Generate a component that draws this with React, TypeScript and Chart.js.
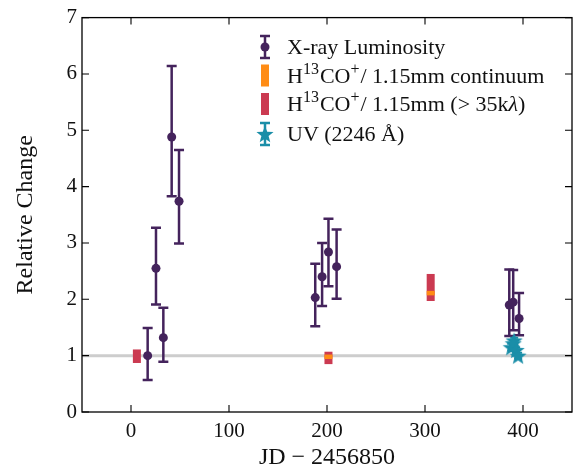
import React, { useEffect, useRef } from 'react';
import { Chart, registerables } from 'chart.js';

Chart.register(...registerables);

// ---------- data ----------
const xrayDays = [17, 25.5, 33, 41.5, 49, 188, 195, 201.5, 209.8, 386, 390, 396];
const xrayValues = [1.0, 2.55, 1.32, 4.88, 3.74, 2.03, 2.4, 2.84, 2.58, 1.9, 1.95, 1.66];
const xrayErrUp = [0.49, 0.72, 0.53, 1.26, 0.91, 0.6, 0.6, 0.59, 0.66, 0.63, 0.57, 0.45];
const xrayErrDown = [0.43, 0.64, 0.43, 1.05, 0.75, 0.51, 0.52, 0.61, 0.57, 0.55, 0.5, 0.3];

const contDays = [201.5, 305.8];
const contValues = [0.98, 2.11];
const contErr = [0.04, 0.04];

const longBaseDays = [6, 201.5, 305.8];
const longBaseValues = [0.99, 0.96, 2.21];
const longBaseErr = [0.12, 0.11, 0.24];

const uvDays = [388, 391, 390, 393, 395];
const uvValues = [1.15, 1.27, 1.22, 1.1, 1.0];
const uvErr = [0.06, 0.05, 0.06, 0.05, 0.05];

const referenceLevel = 1;
const xTickValues = [0, 100, 200, 300, 400];
const yTickValues = [0, 1, 2, 3, 4, 5, 6, 7];
const xRange = [-50, 450];
const yRange = [0, 7];

const legendLabels = [
  'X-ray Luminosity',
  'H¹³CO⁺/ 1.15mm continuum',
  'H¹³CO⁺/ 1.15mm (> 35kλ)',
  'UV (2246 Å)',
];

// ---------- styles ----------
const PURPLE = '#44235c';
const ORANGE = '#ff8c15';
const RED = '#cb3a51';
const TEAL = '#1a8ea8';
const GREY = '#cdcdcd';
const FONT = "'Liberation Serif', 'DejaVu Serif', serif";

function makeStar(color: string, r: number) {
  const c = document.createElement('canvas');
  const s = Math.ceil(r * 2 + 2);
  c.width = s;
  c.height = s;
  const g = c.getContext('2d')!;
  const cx = s / 2;
  const cy = s / 2 + r * 0.1;
  g.beginPath();
  for (let i = 0; i < 10; i++) {
    const ang = -Math.PI / 2 + (i * Math.PI) / 5;
    const rad = i % 2 === 0 ? r : r * 0.42;
    const px = cx + rad * Math.cos(ang);
    const py = cy + rad * Math.sin(ang);
    if (i === 0) g.moveTo(px, py);
    else g.lineTo(px, py);
  }
  g.closePath();
  g.fillStyle = color;
  g.fill();
  return c;
}

function drawErrBar(ctx: CanvasRenderingContext2D, x: number, top: number, bot: number, cap: number) {
  ctx.beginPath();
  ctx.moveTo(x, top);
  ctx.lineTo(x, bot);
  ctx.moveTo(x - cap, top);
  ctx.lineTo(x + cap, top);
  ctx.moveTo(x - cap, bot);
  ctx.lineTo(x + cap, bot);
  ctx.stroke();
}

type Seg = { t: string; sup?: boolean; it?: boolean };

function drawRich(ctx: CanvasRenderingContext2D, segs: Seg[], x: number, y: number, size: number) {
  let cx = x;
  segs.forEach((s) => {
    const sz = s.sup ? Math.round(size * 0.74) : size;
    ctx.font = `${s.it ? 'italic ' : ''}${sz}px ${FONT}`;
    const yy = s.sup ? y - size * 0.4 : y;
    ctx.fillText(s.t, cx, yy);
    cx += ctx.measureText(s.t).width + (s.sup ? 1 : 0);
  });
}

const customPlugin = {
  id: 'customDraw',
  beforeDatasetDraw(chart: any, args: any) {
    const ds = chart.data.datasets[args.index];
    const xs = chart.scales.x;
    const ys = chart.scales.y;
    const ctx: CanvasRenderingContext2D = chart.ctx;
    if (ds.errUp) {
      ctx.save();
      ctx.strokeStyle = ds.errColor;
      ctx.lineWidth = ds.errWidth;
      ds.data.forEach((p: any, i: number) => {
        const px = xs.getPixelForValue(p.x);
        const top = ys.getPixelForValue(p.y + ds.errUp[i]);
        const bot = ys.getPixelForValue(p.y - ds.errDown[i]);
        drawErrBar(ctx, px, top, bot, ds.capSize);
      });
      ctx.restore();
    }
    if (ds.rectErr) {
      ctx.save();
      ctx.fillStyle = ds.rectColor;
      ds.data.forEach((p: any, i: number) => {
        const px = xs.getPixelForValue(p.x);
        const top = ys.getPixelForValue(p.y + ds.rectErr[i]);
        const bot = ys.getPixelForValue(p.y - ds.rectErr[i]);
        ctx.fillRect(px - 4, top, 8, Math.max(bot - top, 1));
      });
      ctx.restore();
    }
  },
  afterDraw(chart: any) {
    const ctx: CanvasRenderingContext2D = chart.ctx;
    const { left, right, top, bottom } = chart.chartArea;
    const xs = chart.scales.x;
    const ys = chart.scales.y;
    ctx.save();
    ctx.strokeStyle = '#000';
    ctx.lineWidth = 1.3;
    ctx.strokeRect(left, top, right - left, bottom - top);
    ctx.lineWidth = 1.1;
    ctx.beginPath();
    const tl = 7;
    xTickValues.forEach((v) => {
      const px = xs.getPixelForValue(v);
      ctx.moveTo(px, bottom);
      ctx.lineTo(px, bottom - tl);
      ctx.moveTo(px, top);
      ctx.lineTo(px, top + tl);
    });
    yTickValues.forEach((v) => {
      const py = ys.getPixelForValue(v);
      ctx.moveTo(left, py);
      ctx.lineTo(left + tl, py);
      ctx.moveTo(right, py);
      ctx.lineTo(right - tl, py);
    });
    ctx.stroke();

    // legend
    const ix = 265;
    const tx = 287;
    const rows = [47, 75.5, 104, 134];
    const fs = 22;
    ctx.strokeStyle = PURPLE;
    ctx.lineWidth = 2.5;
    drawErrBar(ctx, ix, rows[0] - 11, rows[0] + 11, 5);
    ctx.fillStyle = PURPLE;
    ctx.beginPath();
    ctx.arc(ix, rows[0], 4.5, 0, Math.PI * 2);
    ctx.fill();
    ctx.fillStyle = ORANGE;
    ctx.fillRect(ix - 4, rows[1] - 11, 8, 22);
    ctx.fillStyle = RED;
    ctx.fillRect(ix - 4, rows[2] - 11, 8, 22);
    ctx.strokeStyle = TEAL;
    ctx.lineWidth = 2.5;
    drawErrBar(ctx, ix, rows[3] - 11, rows[3] + 11, 5);
    const star = makeStar(TEAL, 9);
    ctx.drawImage(star, ix - star.width / 2, rows[3] - star.height / 2);

    ctx.fillStyle = '#111';
    ctx.textBaseline = 'alphabetic';
    ctx.textAlign = 'left';
    const base = 7;
    drawRich(ctx, [{ t: legendLabels[0] }], tx, rows[0] + base, fs);
    drawRich(
      ctx,
      [{ t: 'H' }, { t: '13', sup: true }, { t: 'CO' }, { t: '+', sup: true }, { t: '/ 1.15mm continuum' }],
      tx,
      rows[1] + base,
      fs
    );
    drawRich(
      ctx,
      [
        { t: 'H' },
        { t: '13', sup: true },
        { t: 'CO' },
        { t: '+', sup: true },
        { t: '/ 1.15mm (> 35k' },
        { t: 'λ', it: true },
        { t: ')' },
      ],
      tx,
      rows[2] + base,
      fs
    );
    drawRich(ctx, [{ t: legendLabels[3] }], tx, rows[3] + base, fs);
    ctx.restore();
  },
};

export default function App() {
  const ref = useRef<HTMLCanvasElement>(null);
  useEffect(() => {
    document.body.style.margin = '0';
    const canvas = ref.current!;
    const starImg = makeStar(TEAL, 9);
    const tickFont = { family: FONT, size: 21 };
    const titleFont = { family: FONT, size: 24 };
    const chart = new Chart(canvas, {
      type: 'scatter',
      data: {
        datasets: [
          {
            label: 'ref',
            data: [
              { x: xRange[0], y: referenceLevel },
              { x: xRange[1], y: referenceLevel },
            ],
            showLine: true,
            borderColor: GREY,
            borderWidth: 3,
            pointRadius: 0,
            order: 10,
          } as any,
          {
            label: legendLabels[0],
            data: xrayDays.map((d, i) => ({ x: d, y: xrayValues[i] })),
            pointRadius: 4.5,
            pointBackgroundColor: PURPLE,
            pointBorderColor: PURPLE,
            pointBorderWidth: 0,
            errUp: xrayErrUp,
            errDown: xrayErrDown,
            errColor: PURPLE,
            errWidth: 2.5,
            capSize: 5,
            order: 4,
          } as any,
          {
            label: legendLabels[2],
            data: longBaseDays.map((d, i) => ({ x: d, y: longBaseValues[i] })),
            pointRadius: 0,
            rectErr: longBaseErr,
            rectColor: RED,
            order: 3,
          } as any,
          {
            label: legendLabels[1],
            data: contDays.map((d, i) => ({ x: d, y: contValues[i] })),
            pointRadius: 0,
            rectErr: contErr,
            rectColor: ORANGE,
            order: 2,
          } as any,
          {
            label: legendLabels[3],
            data: uvDays.map((d, i) => ({ x: d, y: uvValues[i] })),
            pointStyle: starImg,
            pointRadius: 9,
            errUp: uvErr,
            errDown: uvErr,
            errColor: TEAL,
            errWidth: 2,
            capSize: 4,
            order: 1,
          } as any,
        ],
      },
      options: {
        responsive: false,
        animation: false,
        devicePixelRatio: 1,
        layout: { padding: { top: 17, right: 5, left: 0, bottom: 0 } },
        plugins: { legend: { display: false }, tooltip: { enabled: false } },
        scales: {
          x: {
            type: 'linear',
            min: xRange[0],
            max: xRange[1],
            afterBuildTicks: (s: any) => {
              s.ticks = xTickValues.map((v) => ({ value: v }));
            },
            afterFit: (s: any) => {
              s.height = 60;
            },
            grid: { display: true, drawOnChartArea: false, drawTicks: false, color: 'rgba(0,0,0,0)' },
            border: { display: false },
            ticks: { font: tickFont, color: '#111', padding: 7, maxRotation: 0 },
            title: { display: true, text: 'JD − 2456850', font: titleFont, color: '#111', padding: { top: 0, bottom: 0 } },
          },
          y: {
            type: 'linear',
            min: yRange[0],
            max: yRange[1],
            afterBuildTicks: (s: any) => {
              s.ticks = yTickValues.map((v) => ({ value: v }));
            },
            afterFit: (s: any) => {
              s.width = 82;
            },
            grid: { display: true, drawOnChartArea: false, drawTicks: false, color: 'rgba(0,0,0,0)' },
            border: { display: false },
            ticks: { font: tickFont, color: '#111', padding: 5 },
            title: { display: true, text: 'Relative Change', font: titleFont, color: '#111', padding: { top: 11, bottom: 0 } },
          },
        },
      },
      plugins: [customPlugin as any],
    });
    return () => chart.destroy();
  }, []);
  return (
    <div style={{ width: 582, height: 472 }}>
      <canvas ref={ref} width={582} height={472} style={{ display: 'block' }} />
    </div>
  );
}
